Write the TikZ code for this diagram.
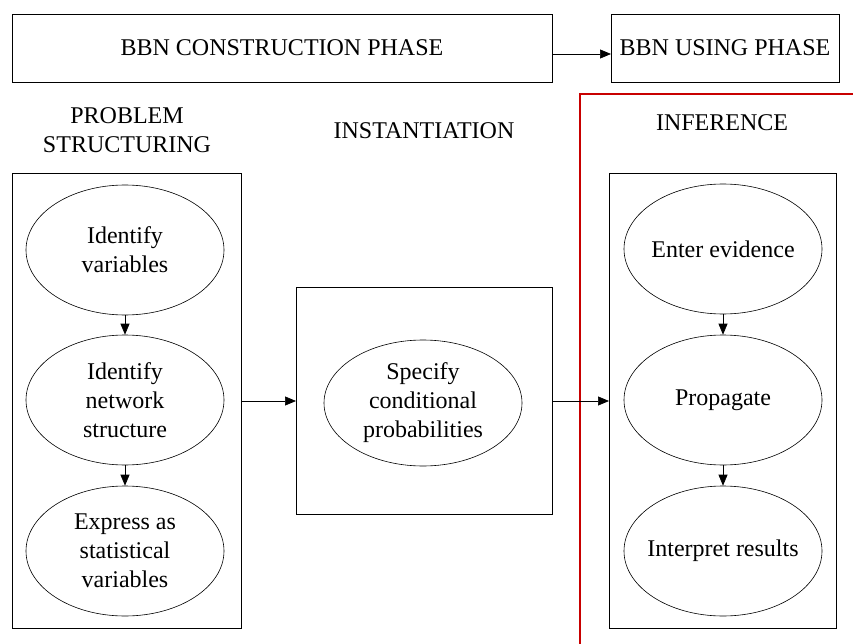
\documentclass[tikz,border=0pt]{standalone}
\usepackage{fontspec}
\setmainfont{Liberation Serif}
\usetikzlibrary{arrows.meta,shapes.geometric}
\definecolor{phasered}{RGB}{200,0,0}
\begin{document}
\begin{tikzpicture}[x=1pt,y=-1pt,
  box/.style={draw,line width=0.8pt},
  oval/.style={draw,ellipse,line width=0.6pt,minimum width=198pt,minimum height=130pt,
    inner xsep=-40pt,inner ysep=0pt,
    align=center,font=\fontsize{24}{29}\selectfont},
  heading/.style={align=center,font=\fontsize{24}{29}\selectfont},
  conn/.style={-{Triangle[length=11pt,width=9pt]},line width=0.7pt}]
\useasboundingbox (0,0) rectangle (853,644);

% phase boxes
\draw[box] (12,14) rectangle (552,82);
\node[heading] (construct) at (282,48) {BBN CONSTRUCTION PHASE};
\draw[box] (611,14) rectangle (839,82);
\node[heading] (using) at (725,48) {BBN USING PHASE};
\coordinate (cr) at (552,54);
\coordinate (ul) at (611,54);
\draw[conn] (cr) -- (ul);

% red separator
\draw[phasered,line width=1.6pt] (580,644) -- (580,94) -- (853,94);

% stage headings
\node[heading] (hps) at (127,130) {PROBLEM\\STRUCTURING};
\node[heading] (hin) at (424,131) {INSTANTIATION};
\node[heading] (hif) at (722,123) {INFERENCE};

% stage boxes
\draw[box] (12,173) rectangle (241,628);
\draw[box] (296,287) rectangle (552,514);
\draw[box] (609,173) rectangle (836,628);
\coordinate (lbR) at (241,401);
\coordinate (mbL) at (296,401);
\coordinate (mbR) at (552,401);
\coordinate (rbL) at (609,401);

% problem structuring
\node[oval] (idv) at (125,250) {Identify\\variables};
\node[oval] (idn) at (125,400) {Identify\\network\\structure};
\node[oval] (exp) at (125,551) {Express as\\statistical\\variables};
\draw[conn] (idv) -- (idn);
\draw[conn] (idn) -- (exp);

% instantiation
\node[oval,minimum height=126pt] (spec) at (423,403) {Specify\\conditional\\probabilities};

% inference
\node[oval] (ent) at (723,249) {Enter evidence};
\node[oval] (prop) at (723,400) {Propagate};
\node[oval] (intr) at (723,551) {Interpret results};
\draw[conn] (ent) -- (prop);
\draw[conn] (prop) -- (intr);

% flow between stages
\draw[conn] (lbR) -- (mbL);
\draw[conn] (mbR) -- (rbL);
\end{tikzpicture}
\end{document}
